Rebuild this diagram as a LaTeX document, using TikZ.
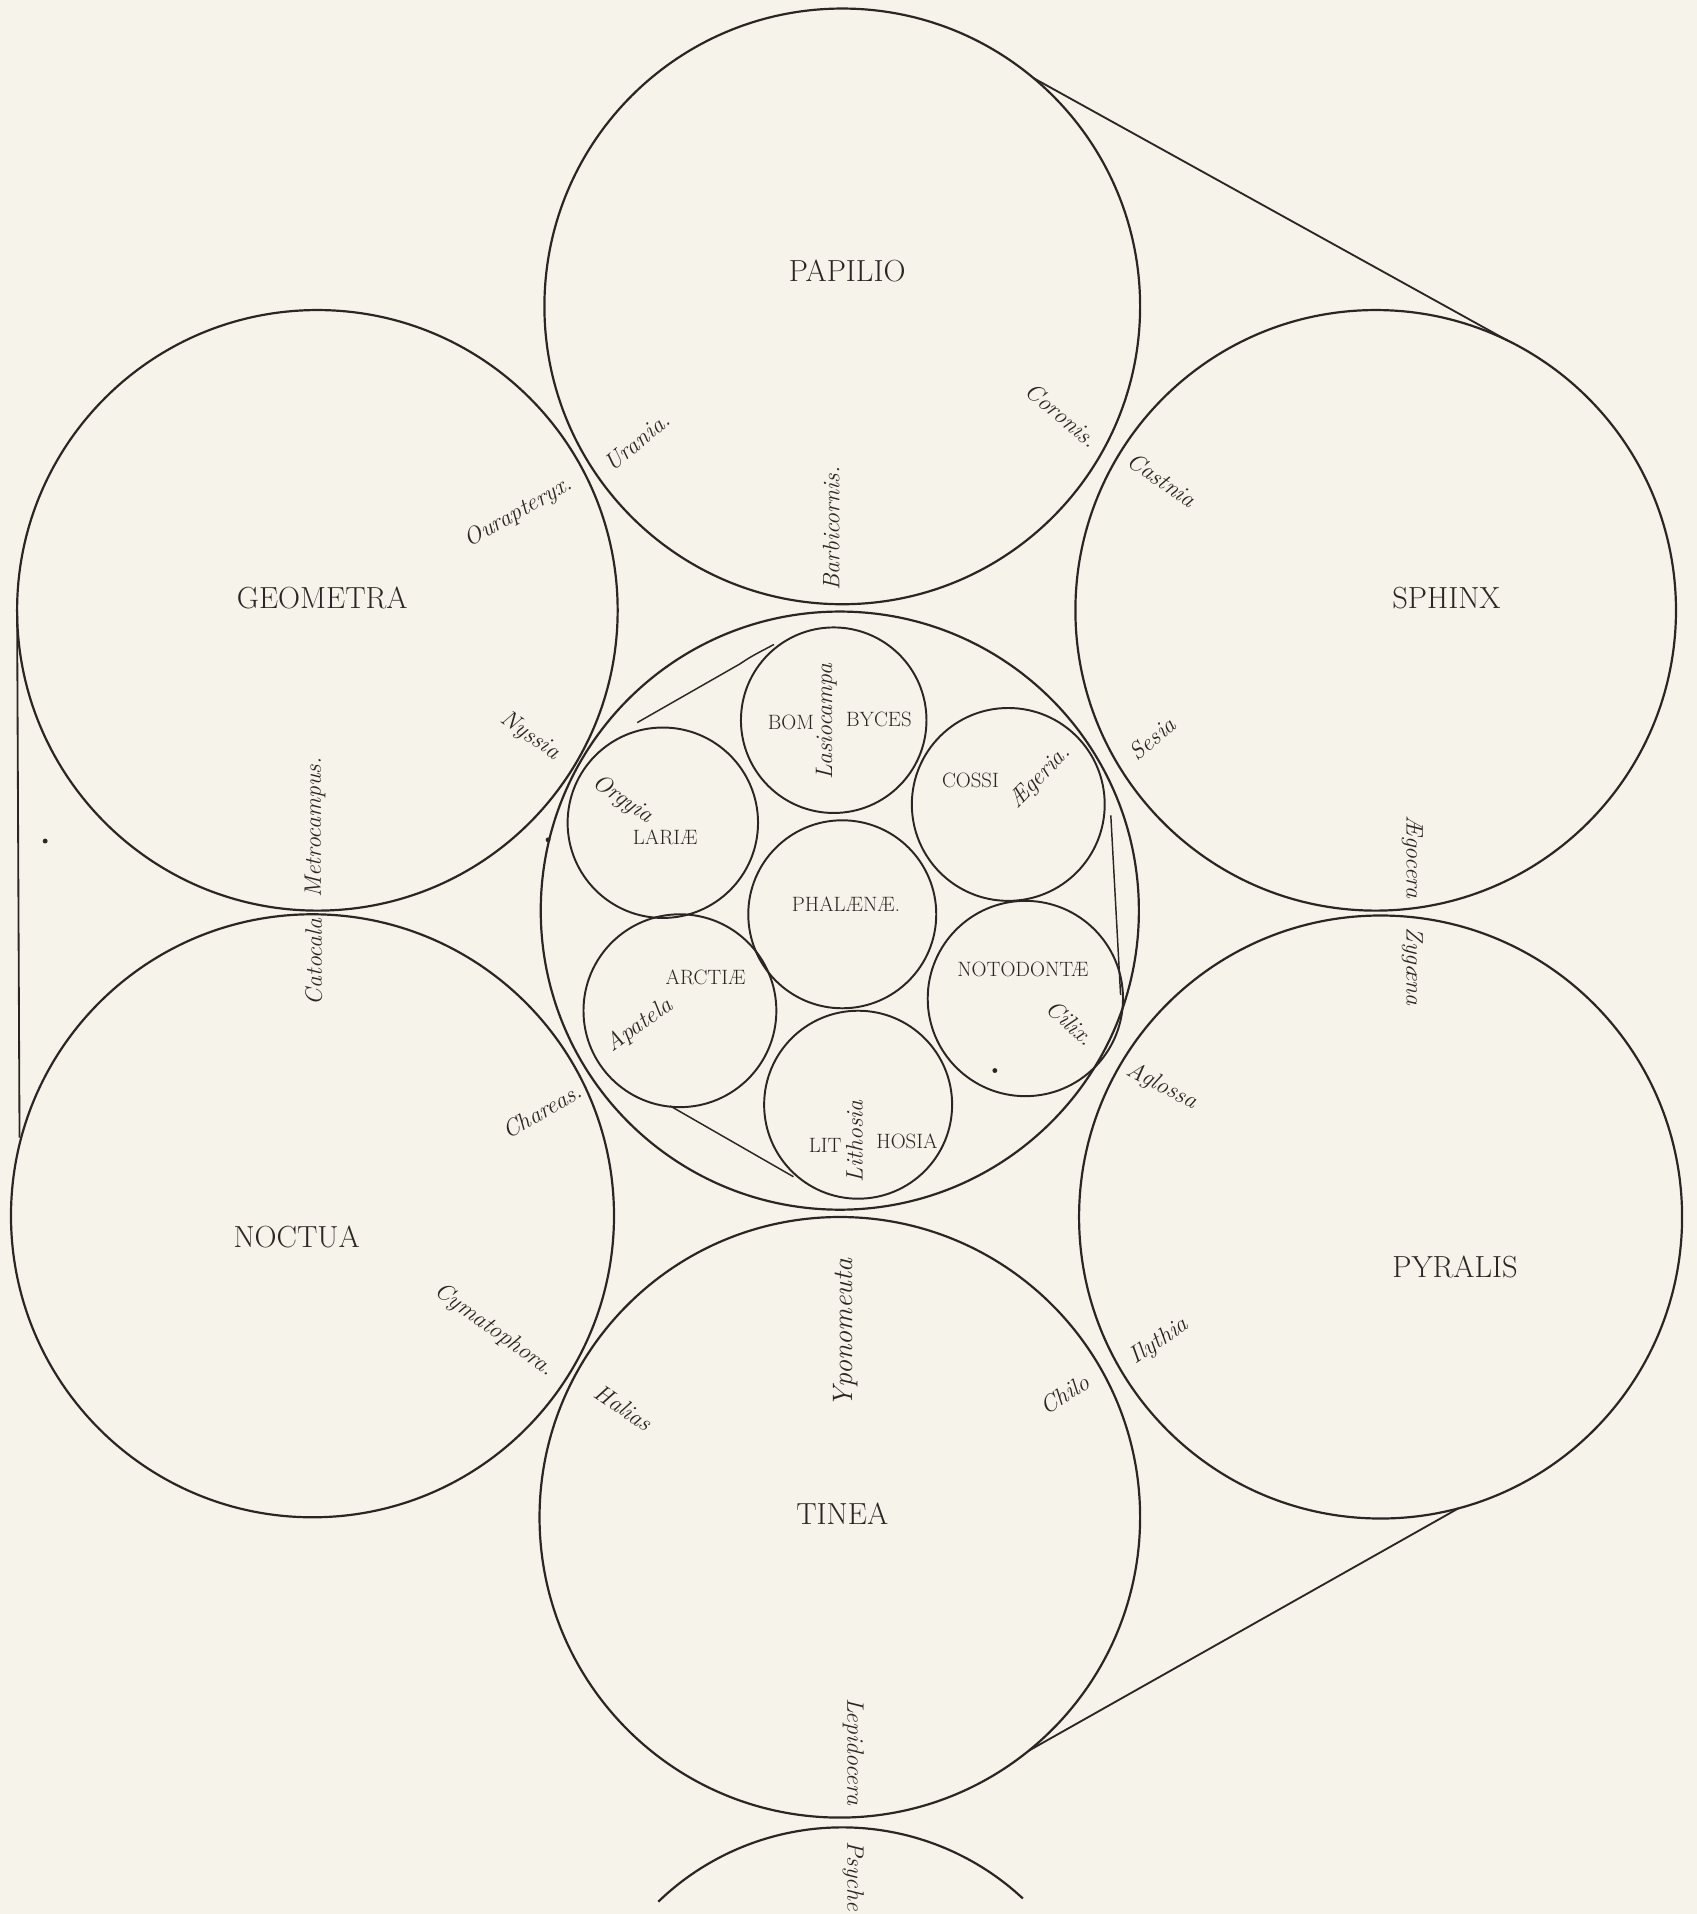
\documentclass[tikz,border=0pt]{standalone}
\usepackage{fontspec}
\definecolor{paper}{RGB}{246,244,234}
\definecolor{ink}{RGB}{45,37,37}
\tikzset{
  ring/.style={circle,draw=ink,line width=1.8pt,inner sep=0pt,outer sep=0pt},
  smallring/.style={circle,draw=ink,line width=1.6pt,inner sep=0pt,outer sep=0pt},
  bigcap/.style={text=ink,font=\fontsize{25}{28}\selectfont\addfontfeatures{LetterSpace=8},inner sep=0pt},
  smallcap/.style={text=ink,font=\fontsize{17}{20}\selectfont\addfontfeatures{LetterSpace=7},inner sep=0pt},
  genus/.style={text=ink,font=\fontsize{19.5}{22}\selectfont\itshape,inner sep=0pt},
  link/.style={draw=ink,line width=1.5pt},
  speck/.style={fill=ink,draw=none,circle,inner sep=0pt,minimum size=4pt},
}
\begin{document}
\begin{tikzpicture}[x=1pt,y=-1pt]
\fill[paper] (0,0) rectangle (1390,1568);
\useasboundingbox (0,0) rectangle (1390,1568);

% large circles
\node[ring,minimum size=490pt] (centre)   at (688,746)  {};
\node[ring,minimum size=488pt] (papilio)  at (690,251)  {};
\node[ring,minimum size=492pt] (geometra) at (260,500)  {};
\node[ring,minimum size=492pt] (sphinx)   at (1127,500) {};
\node[ring,minimum size=494pt] (noctua)   at (256,996)  {};
\node[ring,minimum size=494pt] (pyralis)  at (1131,997) {};
\node[ring,minimum size=492pt] (tinea)    at (688,1243) {};

% small circles inside the centre
\node[smallring,minimum size=152pt] (bombyces) at (683,590) {};
\node[smallring,minimum size=158pt] (cossi)    at (826,659) {};
\node[smallring,minimum size=156pt] (lariae)   at (543,674) {};
\node[smallring,minimum size=154pt] (phalaenae) at (690,749) {};
\node[smallring,minimum size=158pt] (arctiae)  at (557,828) {};
\node[smallring,minimum size=160pt] (notodontae) at (840,818) {};
\node[smallring,minimum size=154pt] (lithosia) at (703,905) {};

% partial circle at the foot
\draw[ink,line width=1.8pt] plot[domain=47:134,smooth,samples=40] ({690+217*cos(\x)},{1714-217*sin(\x)});

% connecting lines
\draw[link] (papilio.50) -- (sphinx.64);
\draw[link] (pyralis.-75) -- (tinea.-51);
\coordinate (leftfoot) at (16,932);
\draw[link] (geometra.west) -- (leftfoot);
\coordinate (hullA) at (522,592);
\coordinate (hullB) at (606,544);
\coordinate (hullC) at (634,528);
\draw[ink,line width=1.2pt] (hullA) -- (hullB) .. controls (615,538) .. (hullC);
\coordinate (hullD) at (910,668);
\coordinate (hullE) at (918,815);
\draw[ink,line width=1.2pt] (hullD) -- (hullE);
\coordinate (hullF) at (549,906);
\coordinate (hullG) at (650,964);
\draw[ink,line width=1.2pt] (hullF) -- (hullG);

% specks
\node[speck] (sp1) at (37,689) {};
\node[speck] (sp2) at (449,688) {};
\node[speck] (sp3) at (815,877) {};

% group names
\node[bigcap] (lpapilio)  at (694,222)  {PAPILIO};
\node[bigcap] (lgeometra) at (264,490)  {GEOMETRA};
\node[bigcap] (lsphinx)   at (1185,490) {SPHINX};
\node[bigcap] (lnoctua)   at (243,1013) {NOCTUA};
\node[bigcap] (lpyralis)  at (1192,1038) {PYRALIS};
\node[bigcap] (ltinea)    at (690,1240) {TINEA};

\node[smallcap] (lbom)   at (648,592) {BOM};
\node[smallcap] (lbyces) at (720,589) {BYCES};
\node[smallcap] (lcossi) at (795,639) {COSSI};
\node[smallcap] (llariae) at (545,686) {LARIÆ};
\node[smallcap] (lphal)  at (693,741) {PHALÆNÆ.};
\node[smallcap] (larct)  at (578,801) {ARCTIÆ};
\node[smallcap] (lnoto)  at (838,794) {NOTODONTÆ};
\node[smallcap] (llit)   at (676,938) {LIT};
\node[smallcap] (lhosia) at (743,935) {HOSIA};

% genera
\node[genus,rotate=40]  (g1)  at (522,362)  {Urania.};
\node[genus,rotate=30]  (g2)  at (425,420)  {Ourapteryx.};
\node[genus,rotate=90]  (g3)  at (681,433)  {Barbicornis.};
\node[genus,rotate=-40] (g4)  at (870,340)  {Coronis.};
\node[genus,rotate=-35] (g5)  at (952,393)  {Castnia};
\node[genus,rotate=-35] (g6)  at (434,603)  {Nyssia};
\node[genus,rotate=41]  (g7)  at (944,605)  {Sesia};
\node[genus,rotate=90]  (g8)  at (677,591)  {Lasiocampa};
\node[genus,rotate=-35] (g9)  at (510,655)  {Orgyia};
\node[genus,rotate=46]  (g10) at (852,637)  {Ægeria.};
\node[genus,rotate=90]  (g11) at (258,678)  {Metrocampus.};
\node[genus,rotate=-90] (g12) at (1157,702) {Ægocera};
\node[genus,rotate=90]  (g13) at (257,788)  {Catocala};
\node[genus,rotate=-90] (g14) at (1157,792) {Zygæna};
\node[genus,rotate=36]  (g15) at (524,840)  {Apatela};
\node[genus,rotate=-42] (g16) at (877,838)  {Cilix.};
\node[genus,rotate=90]  (g17) at (700,935)  {Lithosia};
\node[genus,rotate=30]  (g18) at (444,910)  {Chareas.};
\node[genus,rotate=-28] (g19) at (952,890)  {Aglossa};
\node[genus,rotate=-36] (g20) at (405,1090) {Cymatophora.};
\node[genus,rotate=-34] (g21) at (511,1153) {Halias};
\node[genus,rotate=90,font=\fontsize{23}{26}\selectfont\itshape] (g22) at (693,1092) {Yponomeuta};
\node[genus,rotate=32]  (g23) at (872,1142) {Chilo};
\node[genus,rotate=34]  (g24) at (950,1099) {Ilythia};
\node[genus,rotate=-90] (g25) at (699,1435) {Lepidocera};
\node[genus,rotate=-90] (g26) at (699,1537) {Psyche};
\end{tikzpicture}
\end{document}
